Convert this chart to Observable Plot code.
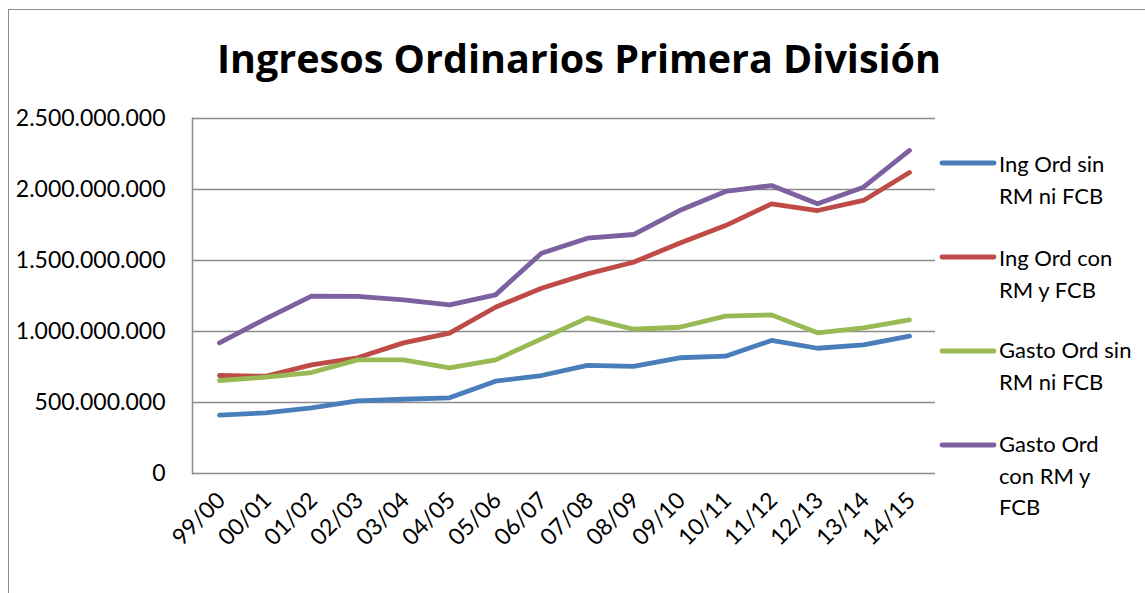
<!DOCTYPE html>
<html>
<head>
<meta charset="utf-8">
<script src="https://cdn.jsdelivr.net/npm/d3@7"></script>
<script src="https://cdn.jsdelivr.net/npm/@observablehq/plot@0.6"></script>
<style>
  html, body { margin: 0; padding: 0; background: #fff; }
  #wrap { position: relative; width: 1145px; height: 593px; overflow: hidden; font-family: Lato, "Open Sans", sans-serif; }
  #border { position: absolute; left: 8px; top: 9px; width: 1200px; height: 700px; border-left: 1.5px solid #8c8c8c; border-top: 1.5px solid #8c8c8c; }
  #title { position: absolute; left: 0; top: 36px; width: 1158px; text-align: center; font-family: "Open Sans", sans-serif; font-weight: bold; font-size: 39.5px; line-height: 44px; color: #000; }
  #chart { position: absolute; left: 0; top: 0; }
  #legend { position: absolute; left: 0; top: 0; }
</style>
</head>
<body>
<div id="wrap">
  <div id="border"></div>
  <div id="chart"></div>
  <div id="title">Ingresos Ordinarios Primera División</div>
  <div id="legend"></div>
</div>
<script>
const seasons = ["99/00","00/01","01/02","02/03","03/04","04/05","05/06","06/07","07/08","08/09","09/10","10/11","11/12","12/13","13/14","14/15"];
const seriesNames = ["Ing Ord sin RM ni FCB","Ing Ord con RM y FCB","Gasto Ord sin RM ni FCB","Gasto Ord con RM y FCB"];
const seriesColors = ["#4a7ebb","#be4b48","#98b954","#7d60a0"];
const ingSin   = [411e6, 427e6, 462e6, 512e6, 523e6, 533e6, 650e6, 690e6, 761e6, 754e6, 815e6, 826e6, 937e6, 882e6, 906e6, 967e6];
const ingCon   = [690e6, 685e6, 765e6, 815e6, 920e6, 988e6, 1171e6, 1305e6, 1406e6, 1488e6, 1622e6, 1746e6, 1899e6, 1852e6, 1923e6, 2120e6];
const gastoSin = [655e6, 678e6, 711e6, 800e6, 800e6, 744e6, 800e6, 948e6, 1096e6, 1016e6, 1030e6, 1108e6, 1117e6, 991e6, 1026e6, 1082e6];
const gastoCon = [920e6, 1089e6, 1249e6, 1247e6, 1223e6, 1188e6, 1258e6, 1551e6, 1657e6, 1683e6, 1852e6, 1986e6, 2028e6, 1899e6, 2016e6, 2275e6];
const yTicks = [0, 500e6, 1000e6, 1500e6, 2000e6, 2500e6];

const allSeries = [ingSin, ingCon, gastoSin, gastoCon];
const data = [];
allSeries.forEach((vals, si) => vals.forEach((v, i) => data.push({season: seasons[i], value: v, series: seriesNames[si]})));

const locale = d3.formatLocale({decimal: ",", thousands: ".", grouping: [3], currency: ["", "€"]});
const fmt = locale.format(",");

const chart = Plot.plot({
  width: 1145,
  height: 593,
  marginLeft: 192,
  marginRight: 210,
  marginTop: 118,
  marginBottom: 120,
  style: {fontFamily: "Lato, 'Open Sans', sans-serif", fontSize: "23px", color: "#000", background: "transparent"},
  x: {type: "point", domain: seasons, padding: 0.5, label: null},
  y: {domain: [0, 2500e6], label: null},
  color: {domain: seriesNames, range: seriesColors},
  marks: [
    Plot.ruleY(yTicks, {stroke: "#8c8c8c", strokeWidth: 1.5}),
    Plot.frame({anchor: "left", stroke: "#8c8c8c", strokeWidth: 1.5}),
    Plot.axisY({ticks: yTicks, tickSize: 0, tickPadding: 27, tickFormat: fmt, fontSize: 23, label: null}),
    Plot.axisX({tickSize: 0, tickRotate: -45, tickPadding: 23, fontSize: 23, label: null, dx: 2}),
    Plot.line(data, {x: "season", y: "value", z: "series", stroke: "series", strokeWidth: 4.8, strokeLinecap: "round", strokeLinejoin: "round"})
  ]
});
document.getElementById("chart").appendChild(chart);

// legend
const legendItems = [
  {lineY: 163, lines: ["Ing Ord sin", "RM ni FCB"], base: 172},
  {lineY: 257, lines: ["Ing Ord con", "RM y FCB"], base: 266},
  {lineY: 351, lines: ["Gasto Ord sin", "RM ni FCB"], base: 358},
  {lineY: 445, lines: ["Gasto Ord", "con RM y", "FCB"], base: 452}
];
const lsvg = d3.select("#legend").append("svg").attr("width", 1145).attr("height", 593)
  .style("font-family", "Lato, 'Open Sans', sans-serif").style("font-size", "22px");
legendItems.forEach((it, i) => {
  lsvg.append("line").attr("x1", 942).attr("x2", 994).attr("y1", it.lineY).attr("y2", it.lineY)
    .attr("stroke", seriesColors[i]).attr("stroke-width", 4.8).attr("stroke-linecap", "round");
  it.lines.forEach((t, j) => {
    lsvg.append("text").attr("x", 999).attr("y", it.base + j * 31.5).attr("fill", "#000").text(t);
  });
});
</script>
</body>
</html>
